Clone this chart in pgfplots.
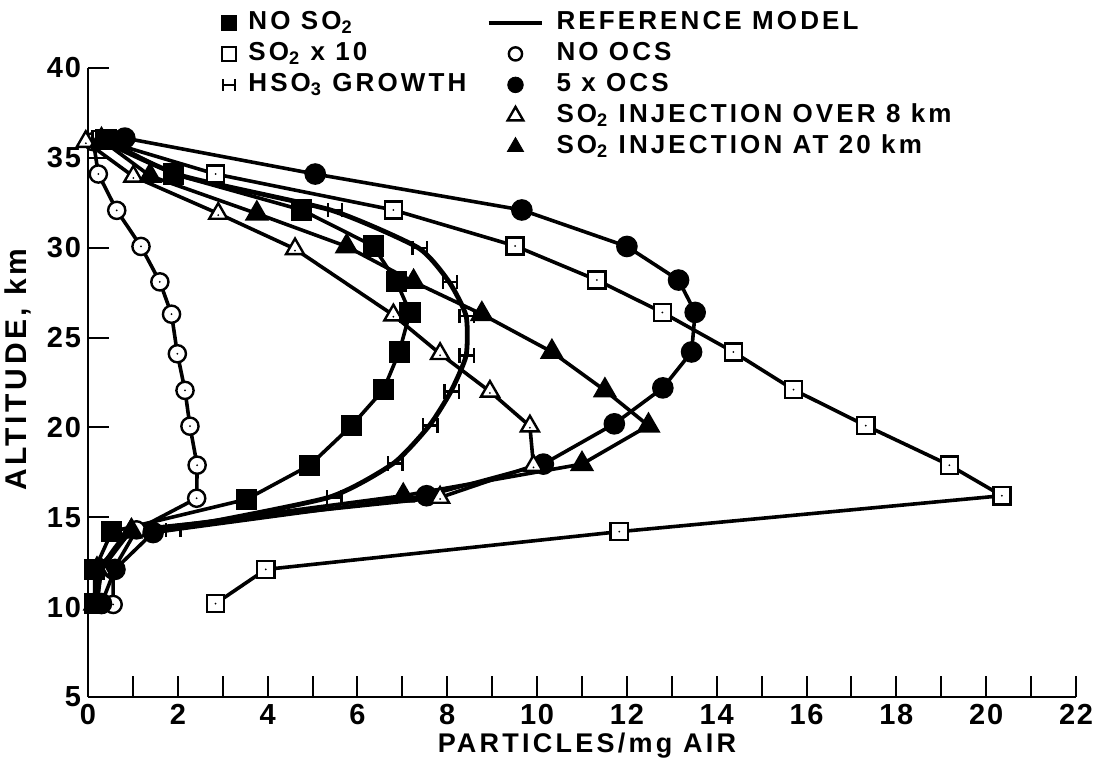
\documentclass[border=0pt]{standalone}
\usepackage{fontspec}
\setmainfont{Liberation Sans}
\usepackage{pgfplots}
\pgfplotsset{compat=1.18}
\newfontfamily\legfam[LetterSpace=12]{Liberation Sans}
\newfontfamily\tickfam[LetterSpace=6]{Liberation Sans}
\newcommand{\legfont}{\legfam\bfseries\fontsize{13}{15}\selectfont}
\newcommand{\ticklabfont}{\tickfam\bfseries\fontsize{14.5}{15}\selectfont}
\newcommand{\labfont}{\legfam\bfseries\fontsize{13.5}{15}\selectfont}

\pgfdeclareplotmark{dsquare}{%
  \pgfpathrectangle{\pgfqpoint{-\pgfplotmarksize}{-\pgfplotmarksize}}{\pgfqpoint{2\pgfplotmarksize}{2\pgfplotmarksize}}%
  \pgfusepathqfillstroke
  \begin{pgfscope}\pgfsetfillcolor{black}%
  \pgfpathcircle{\pgfpointorigin}{0.5pt}%
  \pgfusepathqfill\end{pgfscope}}
\pgfdeclareplotmark{dcircle}{%
  \pgfpathcircle{\pgfpointorigin}{\pgfplotmarksize}%
  \pgfusepathqfillstroke
  \begin{pgfscope}\pgfsetfillcolor{black}%
  \pgfpathcircle{\pgfpointorigin}{0.5pt}%
  \pgfusepathqfill\end{pgfscope}}
\pgfdeclareplotmark{dtriangle}{%
  \pgfpathmoveto{\pgfqpointpolar{90}{\pgfplotmarksize}}%
  \pgfpathlineto{\pgfqpointpolar{-30}{\pgfplotmarksize}}%
  \pgfpathlineto{\pgfqpointpolar{210}{\pgfplotmarksize}}%
  \pgfpathclose
  \pgfusepathqfillstroke
  \begin{pgfscope}\pgfsetfillcolor{black}%
  \pgfpathcircle{\pgfqpoint{0pt}{-0.15\pgfplotmarksize}}{0.5pt}%
  \pgfusepathqfill\end{pgfscope}}
\pgfdeclareplotmark{Hmark}{%
  \pgfpathmoveto{\pgfqpoint{-\pgfplotmarksize}{-\pgfplotmarksize}}%
  \pgfpathlineto{\pgfqpoint{-\pgfplotmarksize}{\pgfplotmarksize}}%
  \pgfpathmoveto{\pgfqpoint{\pgfplotmarksize}{-\pgfplotmarksize}}%
  \pgfpathlineto{\pgfqpoint{\pgfplotmarksize}{\pgfplotmarksize}}%
  \pgfpathmoveto{\pgfqpoint{-\pgfplotmarksize}{0pt}}%
  \pgfpathlineto{\pgfqpoint{\pgfplotmarksize}{0pt}}%
  \pgfusepathqstroke}

\begin{document}
\begin{tikzpicture}
\useasboundingbox (0,0) rectangle (549pt,381pt);
\begin{axis}[
  at={(44pt,32.5pt)}, anchor=south west,
  scale only axis, width=494pt, height=314.5pt,
  xmin=0, xmax=22, ymin=5, ymax=40,
  axis lines=left, axis line style={-, line width=1.2pt},
  tick align=inside, tick pos=left,
  xtick={0,2,...,22}, minor xtick={1,3,...,21},
  ytick={5,10,...,40},
  major tick length=10.5pt, minor tick length=10.5pt,
  every tick/.style={black, line width=1pt},
  tick label style={font=\ticklabfont},
  /pgf/number format/assume math mode=true,
  xlabel={PARTICLES/mg AIR}, ylabel={ALTITUDE, km},
  label style={font=\labfont},
  ylabel style={font=\legfam\bfseries\fontsize{15}{16}\selectfont},
  xlabel style={at={(axis description cs:0.505,-0.078)}, anchor=center},
  ylabel style={at={(axis description cs:-0.071,0.52)}, anchor=center},
  clip=false,
  legend columns=2,
  legend cell align=left,
  legend style={draw=none, fill=none, at={(axis description cs:0.115,1.097)}, anchor=north west,
    inner sep=0pt, font=\legfont, column sep=5pt,
    /tikz/every even column/.append style={column sep=9pt},
    nodes={inner sep=1pt, text height=10pt, text depth=3.5pt}},
  legend image code/.code={\draw[mark repeat=2,mark phase=2,#1] plot coordinates {(0cm,0cm)(0.47cm,0cm)(0.94cm,0cm)};},
]
% legend
\addlegendimage{only marks, mark=square*, mark size=3.8pt}
\addlegendentry{NO SO\textsubscript{2}}
\addlegendimage{line width=2.3pt}
\addlegendentry{REFERENCE MODEL}
\addlegendimage{only marks, mark=square, mark size=3.5pt, mark options={fill=white, line width=1.2pt}}
\addlegendentry{SO\textsubscript{2} x 10}
\addlegendimage{only marks, mark=o, mark size=3.3pt, mark options={fill=white, line width=1.2pt}}
\addlegendentry{NO OCS}
\addlegendimage{only marks, mark=Hmark, mark size=3pt, mark options={line width=1.2pt}}
\addlegendentry{HSO\textsubscript{3} GROWTH}
\addlegendimage{only marks, mark=*, mark size=3.9pt}
\addlegendentry{5 x OCS}
\addlegendimage{empty legend}
\addlegendentry{}
\addlegendimage{only marks, mark=triangle, mark size=4.5pt, mark options={fill=white, line width=1.2pt}}
\addlegendentry{SO\textsubscript{2} INJECTION OVER 8 km}
\addlegendimage{empty legend}
\addlegendentry{}
\addlegendimage{only marks, mark=triangle*, mark size=4.7pt}
\addlegendentry{SO\textsubscript{2} INJECTION AT 20 km}

% REFERENCE MODEL
\addplot[forget plot, line width=2.4pt, smooth, tension=0.35] coordinates {
 (0.2,10.2) (0.3,12.1) (0.9,14.1) (1.9,14.35) (5.35,16.1) (6.8,18.0) (7.6,20.1) (8.08,22.0)
 (8.42,24.0) (8.42,26.2) (8.04,28.1) (7.35,30.0) (5.4,32.1) (2.1,34.0) (0.3,36.0)};
% HSO3 GROWTH
\addplot[forget plot, only marks, mark=Hmark, mark size=3.6pt, mark options={line width=1.2pt}] coordinates {
 (1.9,14.3) (5.48,16.1) (6.84,18.0) (7.62,20.1) (8.1,22.0) (8.43,24.0) (8.43,26.2) (8.06,28.1) (7.39,30.0) (5.5,32.1)};
% NO OCS
\addplot[forget plot, line width=1.8pt, mark=dcircle, mark size=4.3pt, mark options={fill=white, line width=1.2pt}] coordinates {
 (0.56,10.15) (0.56,12.06) (1.08,14.3) (2.42,16.06) (2.43,17.9) (2.27,20.07) (2.16,22.06) (1.99,24.1)
 (1.86,26.3) (1.60,28.1) (1.18,30.07) (0.64,32.08) (0.23,34.1) (0.12,35.9)};
% SO2 x 10
\addplot[forget plot, line width=1.8pt, mark=dsquare, mark size=4.3pt, mark options={fill=white, line width=1.2pt}] coordinates {
 (2.84,10.2) (3.96,12.1) (11.83,14.2) (20.35,16.2) (19.18,17.9) (17.32,20.1) (15.71,22.1) (14.37,24.2)
 (12.79,26.4) (11.33,28.2) (9.51,30.1) (6.80,32.1) (2.84,34.1) (0.29,36.0)};
% 5 x OCS
\addplot[forget plot, line width=1.8pt, mark=*, mark size=4.5pt] coordinates {
 (0.3,10.2) (0.6,12.1) (1.45,14.15) (7.54,16.2) (10.14,17.96) (11.72,20.2) (12.8,22.2) (13.44,24.2)
 (13.52,26.4) (13.15,28.2) (12.0,30.07) (9.66,32.1) (5.06,34.1) (0.82,36.1)};
% SO2 INJECTION OVER 8 km
\addplot[forget plot, line width=1.8pt, mark=dtriangle, mark size=5.2pt, mark options={fill=white, line width=1.2pt}] coordinates {
 (0.2,10.2) (0.3,12.1) (0.97,14.3) (7.84,16.1) (9.92,17.87) (9.84,20.07) (8.95,22.0) (7.84,24.1)
 (6.8,26.25) (4.61,29.93) (2.9,31.9) (1.01,33.97) (-0.05,35.9)};
% SO2 INJECTION AT 20 km
\addplot[forget plot, line width=1.8pt, mark=triangle*, mark size=5.2pt] coordinates {
 (0.15,10.2) (0.2,12.1) (0.96,14.2) (7.02,16.2) (11.0,17.96) (12.48,20.1) (11.51,22.06) (10.33,24.2)
 (8.77,26.3) (7.25,28.1) (5.76,30.07) (3.76,31.9) (1.38,34.0) (0.3,36.0)};
% NO SO2
\addplot[forget plot, line width=1.8pt, mark=square*, mark size=4.4pt] coordinates {
 (0.15,10.2) (0.15,12.1) (0.53,14.2) (3.53,16.0) (4.94,17.9) (5.87,20.1) (6.58,22.1) (6.93,24.2)
 (7.17,26.4) (6.87,28.1) (6.35,30.1) (4.76,32.1) (1.90,34.1) (0.4,36.0)};
\end{axis}
\end{tikzpicture}
\end{document}
